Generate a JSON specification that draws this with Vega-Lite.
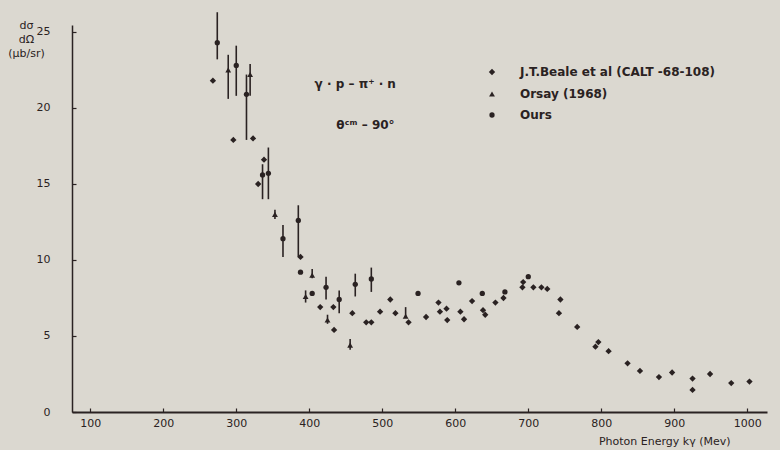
{
  "$schema": "https://vega.github.io/schema/vega-lite/v6.json",
  "width": 695,
  "height": 387,
  "autosize": {"type": "none"},
  "padding": {"left": 72, "top": 25, "right": 13, "bottom": 38},
  "background": "#dbd8d0",
  "config": {
    "view": {"stroke": null},
    "font": "DejaVu Sans",
    "axis": {
      "grid": false,
      "domainColor": "#2a2222",
      "tickColor": "#2a2222",
      "labelColor": "#2a2222",
      "titleColor": "#2a2222",
      "labelFontSize": 11,
      "titleFontSize": 11,
      "titleFontWeight": "normal",
      "tickSize": -4,
      "tickWidth": 1.2,
      "format": "d"
    }
  },
  "datasets": {
    "pts": [
      {"E": 274, "s": 24.3, "set": "Ours", "lo": 23.2, "hi": 26.3},
      {"E": 300, "s": 22.8, "set": "Ours", "lo": 20.8, "hi": 24.1},
      {"E": 314, "s": 20.9, "set": "Ours", "lo": 17.9, "hi": 22.2},
      {"E": 336, "s": 15.6, "set": "Ours", "lo": 14.0, "hi": 16.3},
      {"E": 344, "s": 15.7, "set": "Ours", "lo": 14.0, "hi": 17.4},
      {"E": 364, "s": 11.4, "set": "Ours", "lo": 10.2, "hi": 12.3},
      {"E": 385, "s": 12.6, "set": "Ours", "lo": 10.2, "hi": 13.6},
      {"E": 388, "s": 9.2, "set": "Ours"},
      {"E": 404, "s": 7.8, "set": "Ours"},
      {"E": 423, "s": 8.2, "set": "Ours", "lo": 7.4, "hi": 8.9},
      {"E": 441, "s": 7.4, "set": "Ours", "lo": 6.5, "hi": 8.0},
      {"E": 463, "s": 8.4, "set": "Ours", "lo": 7.6, "hi": 9.1},
      {"E": 485, "s": 8.75, "set": "Ours", "lo": 7.9, "hi": 9.5},
      {"E": 549, "s": 7.8, "set": "Ours"},
      {"E": 605, "s": 8.5, "set": "Ours"},
      {"E": 637, "s": 7.8, "set": "Ours"},
      {"E": 668, "s": 7.9, "set": "Ours"},
      {"E": 700, "s": 8.9, "set": "Ours"},
      {"E": 289, "s": 22.5, "set": "Orsay", "lo": 20.6, "hi": 23.5},
      {"E": 319, "s": 22.2, "set": "Orsay", "lo": 20.8, "hi": 22.9},
      {"E": 353, "s": 13.0, "set": "Orsay", "lo": 12.7, "hi": 13.3},
      {"E": 395, "s": 7.6, "set": "Orsay", "lo": 7.2, "hi": 8.0},
      {"E": 404, "s": 9.0, "set": "Orsay", "lo": 8.8, "hi": 9.4},
      {"E": 425, "s": 6.05, "set": "Orsay", "lo": 5.8, "hi": 6.4},
      {"E": 456, "s": 4.4, "set": "Orsay", "lo": 4.1, "hi": 4.8},
      {"E": 532, "s": 6.3, "set": "Orsay", "lo": 6.2, "hi": 6.9},
      {"E": 268, "s": 21.8, "set": "Beale"},
      {"E": 296, "s": 17.9, "set": "Beale"},
      {"E": 323, "s": 18.0, "set": "Beale"},
      {"E": 330, "s": 15.0, "set": "Beale"},
      {"E": 338, "s": 16.6, "set": "Beale"},
      {"E": 388, "s": 10.2, "set": "Beale"},
      {"E": 415, "s": 6.9, "set": "Beale"},
      {"E": 433, "s": 6.9, "set": "Beale"},
      {"E": 434, "s": 5.4, "set": "Beale"},
      {"E": 459, "s": 6.5, "set": "Beale"},
      {"E": 478, "s": 5.9, "set": "Beale"},
      {"E": 485, "s": 5.9, "set": "Beale"},
      {"E": 497, "s": 6.6, "set": "Beale"},
      {"E": 511, "s": 7.4, "set": "Beale"},
      {"E": 518, "s": 6.5, "set": "Beale"},
      {"E": 536, "s": 5.9, "set": "Beale"},
      {"E": 560, "s": 6.25, "set": "Beale"},
      {"E": 577, "s": 7.2, "set": "Beale"},
      {"E": 579, "s": 6.6, "set": "Beale"},
      {"E": 588, "s": 6.8, "set": "Beale"},
      {"E": 589, "s": 6.05, "set": "Beale"},
      {"E": 607, "s": 6.6, "set": "Beale"},
      {"E": 612, "s": 6.1, "set": "Beale"},
      {"E": 623, "s": 7.3, "set": "Beale"},
      {"E": 638, "s": 6.7, "set": "Beale"},
      {"E": 641, "s": 6.4, "set": "Beale"},
      {"E": 655, "s": 7.2, "set": "Beale"},
      {"E": 666, "s": 7.5, "set": "Beale"},
      {"E": 692, "s": 8.2, "set": "Beale"},
      {"E": 693, "s": 8.55, "set": "Beale"},
      {"E": 707, "s": 8.2, "set": "Beale"},
      {"E": 718, "s": 8.2, "set": "Beale"},
      {"E": 726, "s": 8.1, "set": "Beale"},
      {"E": 744, "s": 7.4, "set": "Beale"},
      {"E": 742, "s": 6.5, "set": "Beale"},
      {"E": 767, "s": 5.6, "set": "Beale"},
      {"E": 792, "s": 4.3, "set": "Beale"},
      {"E": 796, "s": 4.6, "set": "Beale"},
      {"E": 810, "s": 4.0, "set": "Beale"},
      {"E": 836, "s": 3.2, "set": "Beale"},
      {"E": 853, "s": 2.7, "set": "Beale"},
      {"E": 879, "s": 2.3, "set": "Beale"},
      {"E": 897, "s": 2.6, "set": "Beale"},
      {"E": 925, "s": 2.2, "set": "Beale"},
      {"E": 925, "s": 1.45, "set": "Beale"},
      {"E": 949, "s": 2.5, "set": "Beale"},
      {"E": 978, "s": 1.9, "set": "Beale"},
      {"E": 1003, "s": 2.0, "set": "Beale"}
    ],
    "notes": [
      {"E": 463, "s": 21.6, "t": "γ · p  –  π⁺ · n"},
      {"E": 477, "s": 18.9, "t": "θᶜᵐ   –   90°"}
    ]
  },
  "layer": [
    {
      "data": {"name": "pts"},
      "transform": [{"filter": "isValid(datum.lo)"}],
      "mark": {"type": "rule", "color": "#2a2222", "strokeWidth": 1.6},
      "encoding": {
        "x": {"field": "E", "type": "quantitative"},
        "y": {"field": "lo", "type": "quantitative"},
        "y2": {"field": "hi"}
      }
    },
    {
      "data": {"name": "pts"},
      "mark": {"type": "point", "filled": true, "color": "#2a2222", "opacity": 1},
      "encoding": {
        "x": {
          "field": "E",
          "type": "quantitative",
          "scale": {"domain": [75, 1027], "nice": false, "zero": false},
          "axis": {
            "values": [100, 200, 300, 400, 500, 600, 700, 800, 900, 1000],
            "title": "Photon Energy  kγ (Mev)",
            "titleAnchor": "end",
            "titleAlign": "right",
            "titleX": 658,
            "titleBaseline": "bottom",
            "titleY": 34,
            "labelPadding": 9,
            "domainWidth": 2.2
          }
        },
        "y": {
          "field": "s",
          "type": "quantitative",
          "scale": {"domain": [0, 25.46], "nice": false},
          "axis": {
            "values": [0, 5, 10, 15, 20, 25],
            "title": ["dσ", "dΩ", "", "(μb/sr)"],
            "titleAngle": 0,
            "titleAlign": "center",
            "titleBaseline": "top",
            "titleX": -46,
            "titleY": -6,
            "titleLineHeight": 14,
            "labelPadding": 26,
            "domainWidth": 1.5
          }
        },
        "shape": {
          "field": "set",
          "type": "ordinal",
          "scale": {"domain": ["Beale", "Orsay", "Ours"], "range": ["diamond", "triangle-up", "circle"]},
          "legend": {
            "title": null,
            "orient": "none",
            "legendX": 414,
            "legendY": 41,
            "labelExpr": "datum.label == 'Beale' ? 'J.T.Beale  et al (CALT -68-108)' : datum.label == 'Orsay' ? 'Orsay (1968)' : 'Ours'",
            "labelFontSize": 12,
            "labelFontWeight": "bold",
            "labelLimit": 0,
            "labelColor": "#2a2222",
            "labelOffset": 22,
            "rowPadding": 9,
            "symbolFillColor": "#2a2222",
            "symbolStrokeColor": "#2a2222"
          }
        },
        "size": {
          "field": "set",
          "type": "ordinal",
          "scale": {"domain": ["Beale", "Orsay", "Ours"], "range": [40, 28, 60]}
        }
      }
    },
    {
      "data": {"name": "notes"},
      "mark": {"type": "text", "color": "#2a2222", "fontSize": 12, "fontWeight": "bold", "align": "center", "baseline": "middle"},
      "encoding": {
        "x": {"field": "E", "type": "quantitative"},
        "y": {"field": "s", "type": "quantitative"},
        "text": {"field": "t"}
      }
    }
  ]
}
